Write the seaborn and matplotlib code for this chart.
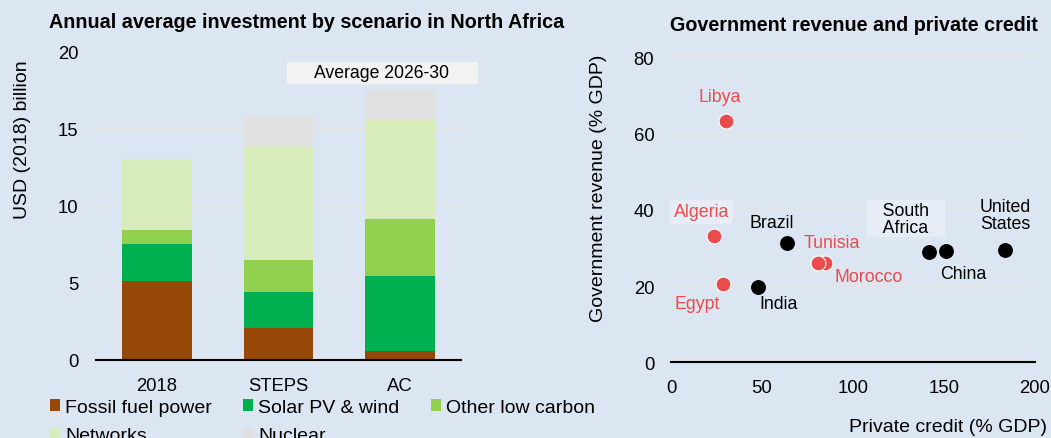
import matplotlib
matplotlib.use("Agg")
import matplotlib.pyplot as plt
from matplotlib.patches import Patch, Rectangle
import numpy as np
import pandas as pd
import seaborn as sns

# Left panel: annual average investment, North Africa (USD 2018 billion)
scenarios = ["2018", "STEPS", "AC"]
fossil = [5.16, 2.10, 0.56]
solar_wind = [2.38, 2.32, 4.92]
other_low_carbon = [0.91, 2.10, 3.69]
networks = [4.62, 7.35, 6.39]
nuclear = [0.0, 1.97, 1.94]
layer_names = ["Fossil fuel power", "Solar PV & wind", "Other low carbon", "Networks", "Nuclear"]
layer_colors = ["#974706", "#00b050", "#92d050", "#d7ebbb", "#e0e0e0"]

# Right panel: government revenue vs private credit (% GDP)
countries = ["Libya", "Algeria", "Egypt", "Morocco", "Tunisia",
             "Brazil", "India", "South Africa", "China", "United States"]
private_credit = [30.0, 23.4, 28.8, 84.6, 81.0, 63.9, 47.6, 141.9, 150.9, 183.3]
gov_revenue = [63.2, 33.2, 20.5, 26.0, 26.0, 31.2, 19.8, 29.0, 29.2, 29.5]
region = ["North Africa"] * 5 + ["Other"] * 5
point_labels = ["Libya", "Algeria", "Egypt", "Morocco", "Tunisia",
                "Brazil", "India", "South\nAfrica", "China", "United\nStates"]
# label offsets from the point, in pixels (x right, y up)
label_offsets = [(-6, 25), (-12, 24), (-26, -19), (44, -13), (13, 21),
                 (-15, 21), (21, -17), (-23, 33), (18, -23), (1, 35)]

BG = "#dce6f2"
RED = "#e84c4c"
GRID = "#e4e4e4"
LABEL_BOX = "#e6edf6"

sns.set_style("white", {"axes.facecolor": BG, "figure.facecolor": BG})
plt.rcParams["font.family"] = ["Liberation Sans", "DejaVu Sans"]
plt.rcParams["text.color"] = "black"
plt.rcParams["axes.labelcolor"] = "black"
plt.rcParams["xtick.color"] = "black"
plt.rcParams["ytick.color"] = "black"

TICK_FS = 13.3
LABEL_FS = 14
TITLE_FS = 14.2
NOTE_FS = 12.8

fig = plt.figure(figsize=(10.51, 4.39), dpi=100)
fig.patch.set_facecolor(BG)

# ---------- left: stacked bars ----------
ax1 = fig.add_axes([0.0917, 0.1777, 0.3466, 0.7016])
ax1.set_facecolor(BG)
layers = [fossil, solar_wind, other_low_carbon, networks, nuclear]
bottom = np.zeros(len(scenarios))
for vals, name, col in zip(layers, layer_names, layer_colors):
    df = pd.DataFrame({"scenario": scenarios, "value": vals})
    sns.barplot(data=df, x="scenario", y="value", color=col, bottom=bottom,
                width=0.57, linewidth=0, saturation=1, ax=ax1)
    bottom = bottom + np.array(vals)

ax1.set_ylim(0, 20)
ax1.set_yticks([0, 5, 10, 15, 20])
ax1.set_xlim(-0.5, 2.5)
for v in [5, 10, 15, 20]:
    ax1.axhline(v, color=GRID, lw=1.2, zorder=0)
ax1.set_axisbelow(True)
for s in ["top", "right", "left"]:
    ax1.spines[s].set_visible(False)
ax1.spines["bottom"].set_color("black")
ax1.spines["bottom"].set_linewidth(1.5)
ax1.tick_params(axis="x", length=0, pad=12.2, labelsize=TICK_FS)
ax1.tick_params(axis="y", length=0, pad=13, labelsize=TICK_FS)
ax1.set_xlabel("")
ax1.set_ylabel("USD (2018) billion", fontsize=LABEL_FS)
ax1.yaxis.set_label_coords(-0.18, 0.72)

ax1.add_patch(Rectangle((0.5233, 0.896), 0.5255, 0.0727, transform=ax1.transAxes,
                        facecolor="#f2f2f2", edgecolor="none", clip_on=False, zorder=3))
ax1.text(0.784, 0.932, "Average 2026-30", transform=ax1.transAxes, ha="center",
         va="center", fontsize=12.7, zorder=4)

fig.text(49 / 1051, 1 - 27.7 / 439, "Annual average investment by scenario in North Africa",
         ha="left", va="baseline", fontsize=TITLE_FS, fontweight="bold")

# legend fills column-wise, so order items to read row-wise like the original
handles = [Patch(facecolor=c, edgecolor="none") for c in layer_colors]
order = [0, 3, 1, 4, 2]
fig.legend([handles[i] for i in order], [layer_names[i] for i in order], ncol=3,
           loc="upper left", bbox_to_anchor=(50 / 1051, 1 - 400 / 439), frameon=False,
           handlelength=0.52, handleheight=0.52, handletextpad=0.26,
           columnspacing=1.6, labelspacing=0.58, borderpad=0, borderaxespad=0,
           fontsize=LABEL_FS)

# ---------- right: scatter ----------
ax2 = fig.add_axes([0.6384, 0.1724, 0.3463, 0.6948])
ax2.set_facecolor(BG)
sc = pd.DataFrame({"country": countries, "credit": private_credit,
                   "revenue": gov_revenue, "region": region})
others = sc[sc["region"] == "Other"]
north = sc[sc["region"] == "North Africa"]
sns.scatterplot(data=others, x="credit", y="revenue", color="black", s=115,
                linewidth=0, ax=ax2, zorder=3, legend=False)
sns.scatterplot(data=north, x="credit", y="revenue", color=RED, s=115,
                edgecolor="white", linewidth=0.8, ax=ax2, zorder=3, legend=False)

for i, lab in enumerate(point_labels):
    col = RED if region[i] == "North Africa" else "black"
    box = None
    if countries[i] == "Algeria":
        box = dict(boxstyle="square,pad=0.2", facecolor=LABEL_BOX, edgecolor="none")
    if countries[i] == "South Africa":
        lab = "\n".join("   " + part + "   " for part in lab.split("\n"))
        box = dict(boxstyle="square,pad=0.08", facecolor=LABEL_BOX, edgecolor="none")
    ax2.annotate(lab, xy=(private_credit[i], gov_revenue[i]), xytext=label_offsets[i],
                 textcoords="offset pixels", ha="center", va="center", color=col,
                 fontsize=NOTE_FS, linespacing=1.0, bbox=box, zorder=2)

ax2.set_xlim(0, 200)
ax2.set_ylim(0, 80)
ax2.set_xticks([0, 50, 100, 150, 200])
ax2.set_yticks([0, 20, 40, 60, 80])
for v in [20, 40, 60, 80]:
    ax2.axhline(v, color=GRID, lw=1.2, zorder=0, clip_on=False)
for s in ["top", "right", "left"]:
    ax2.spines[s].set_visible(False)
ax2.spines["bottom"].set_color("black")
ax2.spines["bottom"].set_linewidth(1.5)
ax2.tick_params(axis="x", length=0, pad=12, labelsize=TICK_FS)
ax2.tick_params(axis="y", length=0, pad=12, labelsize=TICK_FS)
ax2.set_ylabel("Government revenue (% GDP)", fontsize=LABEL_FS)
ax2.yaxis.set_label_coords(-0.176, 0.575)
ax2.set_xlabel("Private credit (% GDP)", fontsize=LABEL_FS, ha="right", va="center")
ax2.xaxis.set_label_coords(1.033, -0.209)

fig.text(670 / 1051, 1 - 30.7 / 439, "Government revenue and private credit",
         ha="left", va="baseline", fontsize=TITLE_FS, fontweight="bold")

fig.savefig("out.png", dpi=100, facecolor=BG)
